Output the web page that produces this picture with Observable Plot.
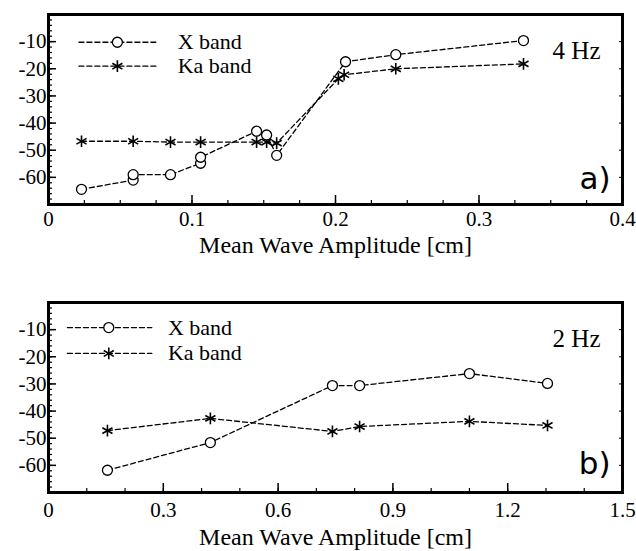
<!DOCTYPE html>
<html>
<head>
<meta charset="utf-8">
<script src="https://cdn.jsdelivr.net/npm/d3@7"></script>
<script src="https://cdn.jsdelivr.net/npm/@observablehq/plot@0.6"></script>
<style>
  body { margin: 0; background: white; }
  #chart svg { display: block; }
  #chart svg text { font-family: "Liberation Serif", "Times New Roman", serif; }
  #chart svg text.tag { font-family: "DejaVu Sans", "Liberation Sans", sans-serif; }
</style>
</head>
<body>
<div id="chart"></div>
<script>
// ---- Panel a) 4 Hz ----
const aXbandX = [0.023, 0.059, 0.059, 0.085, 0.106, 0.106, 0.145, 0.152, 0.159, 0.207, 0.242, 0.331];
const aXbandY = [-64.4, -61.0, -59.0, -59.0, -54.8, -52.6, -43.0, -44.4, -51.9, -17.4, -14.8, -9.6];
const aKabandX = [0.023, 0.059, 0.085, 0.106, 0.145, 0.152, 0.159, 0.202, 0.206, 0.242, 0.331];
const aKabandY = [-46.7, -46.7, -47.0, -47.0, -47.0, -47.0, -47.4, -23.7, -22.2, -20.0, -18.2];
const aXTicks = [0, 0.1, 0.2, 0.3, 0.4];
const aXTickLabels = ["0", "0.1", "0.2", "0.3", "0.4"];

// ---- Panel b) 2 Hz ----
const bXbandX = [0.154, 0.423, 0.742, 0.813, 1.10, 1.304];
const bXbandY = [-61.8, -51.6, -30.6, -30.6, -26.2, -29.8];
const bKabandX = [0.154, 0.423, 0.742, 0.813, 1.10, 1.304];
const bKabandY = [-47.2, -42.7, -47.5, -45.7, -43.8, -45.3];
const bXTicks = [0, 0.3, 0.6, 0.9, 1.2, 1.5];
const bXTickLabels = ["0", "0.3", "0.6", "0.9", "1.2", "1.5"];

const yTicks = [-60, -50, -40, -30, -20, -10];
const yTickLabels = ["-60", "-50", "-40", "-30", "-20", "-10"];
const seriesNames = ["X band", "Ka band"];
const xLabel = "Mean Wave Amplitude [cm]";

function zip(xs, ys) { return xs.map((x, i) => ({x, y: ys[i]})); }

function panel(cfg) {
  const [x0, x1] = cfg.xDomain;
  const [y0, y1] = [-70, 0];
  const fx = f => x0 + f * (x1 - x0);
  const fy = f => y1 - f * (y1 - y0);
  const xb = zip(cfg.xX, cfg.xY);
  const kb = zip(cfg.kX, cfg.kY);
  const minorX = d3.range(x0, x1 + 1e-9, cfg.xMinor);
  const minorY = d3.range(-70, 0.001, 2);
  // legend (positions as fractions of the frame)
  const rows = seriesNames.map((name, i) => ({name, fy: cfg.legY[i]}));
  const legLines = rows.flatMap(r => [
    {x: fx(cfg.legX[0]), y: fy(r.fy), name: r.name},
    {x: fx(cfg.legX[2]), y: fy(r.fy), name: r.name}
  ]);
  const legCircle = [{x: fx(cfg.legX[1]), y: fy(rows[0].fy)}];
  const legStar = [{x: fx(cfg.legX[1]), y: fy(rows[1].fy)}];
  const legText = rows.map(r => ({x: fx(cfg.legX[3]), y: fy(r.fy), name: r.name}));
  const tk = {label: null, text: null};

  const svg = Plot.plot({
    width: 636,
    height: cfg.height,
    marginTop: cfg.marginTop,
    marginBottom: cfg.marginBottom,
    marginLeft: 48,
    marginRight: 14,
    style: {background: "white", color: "black"},
    x: {domain: cfg.xDomain},
    y: {domain: [y0, y1]},
    marks: [
      // inner ticks
      Plot.axisX({...tk, ticks: minorX, tickSize: -4, anchor: "bottom", strokeWidth: 1.2}),
      Plot.axisX({...tk, ticks: cfg.xTicks, tickSize: -9, anchor: "bottom", strokeWidth: 1.5}),
      Plot.axisY({...tk, ticks: minorY, tickSize: -4, anchor: "left", strokeWidth: 1.2}),
      Plot.axisY({...tk, ticks: yTicks, tickSize: -8, anchor: "left", strokeWidth: 1.5}),
      Plot.axisY({...tk, ticks: yTicks, tickSize: -4, anchor: "right", strokeWidth: 1}),
      // tick labels
      Plot.axisX({ticks: cfg.xTicks, tickSize: 0, tickPadding: cfg.xPad, label: null,
        tickFormat: (d, i) => cfg.xLabels[i], fontSize: 21, anchor: "bottom"}),
      Plot.axisY({ticks: yTicks, tickSize: 0, tickPadding: 2, label: null,
        tickFormat: (d, i) => yTickLabels[i], fontSize: 21, anchor: "left"}),
      Plot.frame({stroke: "black", strokeWidth: 3}),
      // data
      Plot.line(xb, {x: "x", y: "y", stroke: "black", strokeWidth: 1.3, strokeDasharray: "5,3"}),
      Plot.line(kb, {x: "x", y: "y", stroke: "black", strokeWidth: 1.3, strokeDasharray: "5,3"}),
      Plot.dot(kb, {x: "x", y: "y", symbol: "asterisk", r: 5.5, stroke: "black", strokeWidth: 1.6}),
      Plot.dot(xb, {x: "x", y: "y", symbol: "circle", r: 5, stroke: "black", fill: "white", strokeWidth: 1.3}),
      // legend
      Plot.line(legLines, {x: "x", y: "y", z: "name", stroke: "black", strokeWidth: 1.3, strokeDasharray: "5,3"}),
      Plot.dot(legCircle, {x: "x", y: "y", symbol: "circle", r: 5, stroke: "black", fill: "white", strokeWidth: 1.3}),
      Plot.dot(legStar, {x: "x", y: "y", symbol: "asterisk", r: 5.5, stroke: "black", strokeWidth: 1.6}),
      Plot.text(legText, {x: "x", y: "y", text: "name", textAnchor: "start", fontSize: 22, fill: "black"}),
      // annotations
      Plot.text([cfg.freq], {frameAnchor: "top-right", lineAnchor: "middle", dx: -22, dy: cfg.freqDy, text: d => d, fontSize: 25, fill: "black"}),
      Plot.text([cfg.tag], {frameAnchor: "bottom-right", lineAnchor: "middle", dx: -12, dy: cfg.tagDy, text: d => d, fontSize: 31, fill: "black"}),
      Plot.text([xLabel], {frameAnchor: "bottom", lineAnchor: "middle", dy: cfg.labelDy, text: d => d, fontSize: 24, fill: "black"})
    ]
  });
  d3.select(svg).selectAll("text").filter(function() { return this.textContent === cfg.tag; }).classed("tag", true);
  return svg;
}

const chart = document.getElementById("chart");
chart.append(panel({
  xDomain: [0, 0.4], xTicks: aXTicks, xLabels: aXTickLabels, xMinor: 0.025,
  xX: aXbandX, xY: aXbandY, kX: aKabandX, kY: aKabandY,
  height: 272, marginTop: 14, marginBottom: 68, xPad: 7,
  legX: [0.053, 0.12, 0.187, 0.225], legY: [0.146, 0.272],
  freq: "4 Hz", freqDy: 36, tag: "a)", tagDy: -25, labelDy: 41
}));
chart.append(panel({
  xDomain: [0, 1.5], xTicks: bXTicks, xLabels: bXTickLabels, xMinor: 0.1,
  xX: bXbandX, xY: bXbandY, kX: bKabandX, kY: bKabandY,
  height: 279, marginTop: 30, marginBottom: 59, xPad: 10,
  legX: [0.033, 0.105, 0.18, 0.208], legY: [0.132, 0.268],
  freq: "2 Hz", freqDy: 36, tag: "b)", tagDy: -28, labelDy: 45
}));
</script>
</body>
</html>
